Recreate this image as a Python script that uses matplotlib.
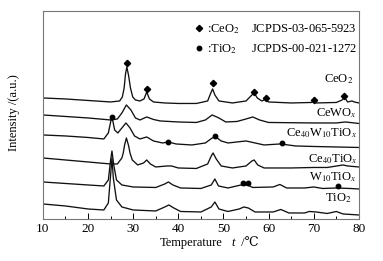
import matplotlib
matplotlib.use('Agg')
from matplotlib import pyplot as plt

plt.rcParams['font.family'] = ['Liberation Serif', 'DejaVu Serif', 'DejaVu Sans']
plt.rcParams['mathtext.fontset'] = 'stix'

# curves (x = temperature, y = intensity in arbitrary units)
ceo2_x = [10, 15, 20, 25, 27, 27.6, 28.0, 28.3, 28.6, 29.0, 29.4, 29.9, 30.5, 31.5, 32.4, 33.0,
          33.6, 34.5, 37, 40, 44, 46.5, 47.2, 47.6, 48.1, 49, 52, 55, 56.3, 56.8, 57.5, 58.5,
          59.3, 60, 65, 69.5, 70.0, 70.5, 75, 76.3, 76.8, 77.5, 78.5, 79, 80]
ceo2_y = [121, 120, 118.5, 117, 118, 122, 131, 145, 152, 143, 131, 122, 119, 118, 120, 127,
          120, 117, 116, 115.5, 115.5, 118, 126, 130, 124, 118, 116, 118, 124, 126, 121, 118,
          119.5, 117, 116, 116.5, 117.5, 116, 116.5, 119, 122, 117, 118, 117, 116]

cewo_x = [10, 15, 20, 25, 26.5, 27.5, 28.5, 29.5, 30.5, 31.5, 33, 34.5, 36, 40, 44, 46, 47.5,
          49, 50.5, 53, 55, 56.5, 58, 60, 70, 75, 77, 80]
cewo_y = [104, 102.5, 101, 99, 100, 106, 114, 109, 101, 99, 102, 99.5, 98, 97, 96.5, 99, 104,
          101, 97, 97.5, 100, 102, 99, 96.5, 96, 96, 97, 95.5]

cewti_x = [10, 15, 20, 23.5, 24.5, 25.1, 25.4, 25.9, 26.6, 27.5, 28.4, 29.3, 30.3, 31.5, 33,
           34.5, 36.5, 37.8, 39.5, 43, 46, 47.5, 48.3, 49.5, 51, 53, 55, 57, 59, 62.5, 63.5,
           66, 70, 75, 80]
cewti_y = [84, 83, 81.5, 80, 86, 99, 100, 89, 86, 91, 96, 91, 83, 80, 82,
           78, 76, 77, 75, 74, 76, 81, 82, 78, 76, 77, 78, 76, 74, 75, 74.5,
           73, 72.5, 72, 71.5]

ceti_x = [10, 15, 20, 25, 26.5, 27.5, 27.8, 28.1, 28.5, 29.0, 29.3, 29.8, 31, 32.3, 33, 33.8,
          35, 37.5, 38.5, 40, 44, 46.5, 47.3, 47.7, 48.4, 49.5, 52, 55, 56.3, 56.8, 57.6, 59,
          65, 70, 73, 76.5, 77.5, 80]
ceti_y = [61, 59, 57, 55, 55, 61, 66, 74, 81, 73, 66, 59, 54, 56, 59, 55,
          52, 53, 53, 51, 50.5, 55, 63, 66, 60, 53, 51, 53, 58, 59, 54, 51,
          51, 51.5, 51.5, 54, 53, 52]

wti_x = [10, 15, 20, 23.5, 24.5, 25.0, 25.3, 25.7, 26.3, 27.5, 30, 35, 37, 37.8, 38.8, 40.5,
         45, 47.3, 48.1, 48.9, 51, 53.9, 54.7, 55.3, 56.5, 61, 62.5, 64, 68, 70, 72, 75, 78, 80]
wti_y = [37, 35.5, 34, 33, 39, 59, 68, 54, 39, 34, 32, 31.5, 35, 37, 34, 31,
         30.5, 34, 40, 33, 31, 34, 33.5, 34, 31.5, 32, 34.5, 31, 31, 32, 30.5, 31, 30.5, 30]

tio2_x = [10, 15, 20, 23.5, 24.5, 25.0, 25.3, 25.6, 26.3, 27.5, 30, 35, 37, 37.9, 39, 40.5,
          45, 47.3, 48.1, 49, 51, 53.5, 54.5, 55.5, 57, 61, 62.7, 64.5, 68, 69, 70.5, 73, 75,
          76.5, 80]
tio2_y = [15, 13, 10, 9, 16, 44, 61, 41, 19, 12, 9, 8, 12, 14, 11, 7.5,
          7, 12, 17, 10, 7.5, 10, 12, 11, 7, 7, 9.5, 6, 6, 7.5, 7, 5.5, 7.5,
          5, 4]

# phase markers
dia_x = [28.6, 33.1, 47.6, 56.8, 59.4, 70.0, 76.8]
dia_y = [156, 130, 136, 127, 121, 119, 123]
dot_x = [25.2, 37.8, 48.2, 63.0, 54.4, 55.5, 75.3]
dot_y = [102, 77, 83, 76, 36, 36, 33]

names = ['CeO$_2$', 'CeWO$_x$', 'Ce$_{40}$W$_{10}$TiO$_x$', 'Ce$_{40}$TiO$_x$',
         'W$_{10}$TiO$_x$', 'TiO$_2$']
name_x = [78.7, 79.6, 79.6, 79.7, 79.6, 78.3]
name_y = [140, 106, 86, 60, 42, 21]

fig = plt.figure(figsize=(3.83, 2.61), dpi=100)
ax = fig.add_axes([0.112, 0.161, 0.825, 0.797])

curves = [(ceo2_x, ceo2_y), (cewo_x, cewo_y), (cewti_x, cewti_y),
          (ceti_x, ceti_y), (wti_x, wti_y), (tio2_x, tio2_y)]
for cx, cy in curves:
    ax.plot(cx, cy, color='#111111', lw=0.95)

dia, = ax.plot(dia_x, dia_y, 'D', color='black', ms=3.2, linestyle='none')
dot, = ax.plot(dot_x, dot_y, 'o', color='black', ms=3.2, linestyle='none')

for n, tx, ty in zip(names, name_x, name_y):
    ax.text(tx, ty, n, ha='right', va='center', fontsize=9)

ax.legend([dia, dot], [':CeO$_2$    JCPDS-03-065-5923', ':TiO$_2$     JCPDS-00-021-1272'],
          loc='upper left', bbox_to_anchor=(0.448, 1.0), frameon=False, fontsize=9,
          handlelength=0.6, handletextpad=0.3, labelspacing=0.5)

ax.set_xlim(10, 80)
ax.set_ylim(0, 208)
ax.set_xticks(range(10, 81, 10))
ax.set_xticks(range(15, 80, 10), minor=True)
ax.set_yticks([])
ax.tick_params(axis='x', which='major', direction='in', length=4, width=0.7, labelsize=9.5, pad=3)
ax.tick_params(axis='x', which='minor', direction='in', length=2.5, width=0.7)
for s in ax.spines.values():
    s.set_color('#777777')
    s.set_linewidth(0.8)

fig.text(0.037, 0.567, 'Intensity /(a.u.)', rotation=90, ha='center', va='center', fontsize=9)
fig.text(0.499, 0.069, 'Temperature', ha='center', va='center', fontsize=9)
fig.text(0.605, 0.069, 't', ha='left', va='center', fontsize=9, style='italic')
fig.text(0.622, 0.069, ' /\u2103', ha='left', va='center', fontsize=9)

fig.savefig('out.png', dpi=100)
